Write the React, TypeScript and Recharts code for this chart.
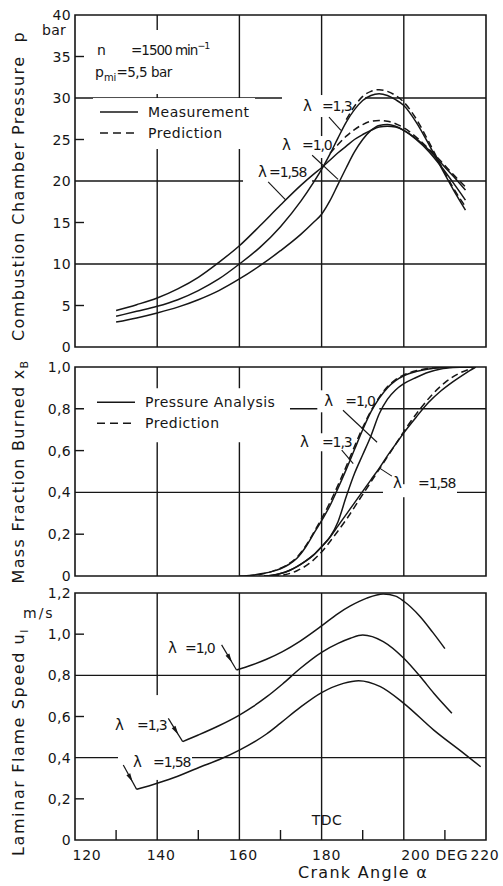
import React from 'react';
import { LineChart, Line, XAxis, YAxis, ReferenceLine, ReferenceDot, ReferenceArea } from 'recharts';

const FONT = '"DejaVu Sans", Verdana, sans-serif';
const INK = '#161616';

// ---------- shared x axis ----------
const angleTicks = [120, 130, 140, 150, 160, 170, 180, 190, 200, 210, 220];
const angleLabels: Record<number, string> = { 120: '120', 140: '140', 160: '160', 180: '180', 200: '200', 210: 'DEG', 220: '220' };
const angleLabelShift: Record<number, number> = { 120: 12, 140: 4, 160: 4, 180: 5, 200: 12, 210: 7, 220: -1 };
const gridAngles = [140, 160, 180, 200];

// ---------- panel 1: combustion chamber pressure (bar) ----------
const pAngles = [130, 135, 140, 145, 150, 155, 160, 165, 170, 175, 178, 180, 182, 184, 186, 188, 190, 192, 194, 196, 198, 200, 203, 206, 209, 212, 215];
const pLambda158 = [4.4, 5.1, 5.9, 7.0, 8.4, 10.2, 12.2, 14.6, 17.1, 19.5, 20.8, 21.6, 22.5, 23.4, 24.2, 25.0, 25.6, 26.1, 26.5, 26.6, 26.5, 26.1, 25.1, 23.8, 22.2, 20.6, 18.9];
const pLambda13 = [3.7, 4.3, 4.9, 5.7, 6.8, 8.2, 10.0, 12.0, 14.5, 17.6, 19.8, 21.4, 23.2, 25.2, 27.1, 28.6, 29.7, 30.3, 30.5, 30.3, 29.8, 29.1, 27.1, 24.5, 21.7, 19.0, 16.5];
const pLambda10 = [3.0, 3.5, 4.1, 4.8, 5.7, 6.8, 8.2, 9.8, 11.6, 13.6, 15.0, 16.0, 17.6, 19.6, 21.6, 23.5, 25.0, 26.1, 26.7, 26.8, 26.6, 26.1, 25.0, 23.6, 21.8, 19.8, 17.7];
const predAngles13 = [186, 188, 190, 192, 194, 196, 198, 200, 203, 206, 209, 212, 215];
const pPred13 = [27.4, 29.0, 30.2, 30.8, 31.0, 30.8, 30.3, 29.5, 27.5, 24.8, 21.9, 19.2, 16.9];
const predAngles158 = [182, 184, 186, 188, 190, 192, 194, 196, 198, 200, 203, 206, 209, 212, 215];
const pPred158 = [23.3, 24.4, 25.4, 26.2, 26.8, 27.2, 27.3, 27.2, 26.9, 26.4, 25.3, 23.9, 22.4, 20.8, 19.3];
const pTicks = [0, 5, 10, 15, 20, 25, 30, 35, 40];
const pMarks = [5, 15, 25, 35];
const pGrid = [10, 20, 30];

// ---------- panel 2: mass fraction burned ----------
const xbAnglesA = [160, 163, 166, 168, 170, 172, 174, 176, 178, 180, 182, 184, 186, 188, 190, 192, 194, 196, 198, 200, 203, 206, 209, 212, 215, 217.5];
const xbA = [0, 0.004, 0.013, 0.022, 0.035, 0.055, 0.085, 0.135, 0.2, 0.265, 0.335, 0.42, 0.51, 0.605, 0.7, 0.785, 0.85, 0.9, 0.935, 0.958, 0.978, 0.99, 0.996, 0.999, 1, 1];
const xbPredAnglesA = [162, 165, 168, 170, 172, 174, 176, 178, 180, 182, 184, 186, 188, 190, 192, 194, 196, 198, 200, 203, 206, 209, 212, 217.5];
const xbPredA = [0, 0.007, 0.022, 0.037, 0.058, 0.09, 0.14, 0.205, 0.275, 0.35, 0.435, 0.525, 0.62, 0.71, 0.79, 0.855, 0.905, 0.94, 0.962, 0.982, 0.993, 0.998, 1, 1];
const xbAnglesBC = [166, 168, 170, 172, 174, 176, 178, 180, 182, 184, 186, 188, 190, 192, 194, 196, 198, 200, 203, 206, 209, 212, 215, 217.5];
const xbB = [0, 0.004, 0.012, 0.025, 0.045, 0.07, 0.1, 0.14, 0.185, 0.26, 0.38, 0.49, 0.58, 0.67, 0.775, 0.845, 0.89, 0.92, 0.95, 0.975, 0.99, 0.997, 1, 1];
const xbC = [0, 0.004, 0.012, 0.025, 0.045, 0.07, 0.1, 0.14, 0.185, 0.24, 0.295, 0.35, 0.405, 0.46, 0.515, 0.575, 0.63, 0.685, 0.76, 0.83, 0.885, 0.93, 0.97, 1];
const xbPredAnglesC = [168, 171, 174, 177, 180, 183, 186, 189, 192, 195, 198, 201, 204, 207, 210, 213, 216, 217.5];
const xbPredC = [0, 0.006, 0.025, 0.06, 0.115, 0.19, 0.27, 0.36, 0.45, 0.54, 0.63, 0.72, 0.8, 0.87, 0.925, 0.965, 0.99, 1];
const xbTicks = [0, 0.2, 0.4, 0.6, 0.8, 1.0];
const xbMarks = [0.2, 0.6];
const xbGrid = [0.4, 0.8];

// ---------- panel 3: laminar flame speed (m/s) ----------
const uAngles10 = [159.3, 163, 166.6, 170.5, 174.7, 180, 184, 187, 191, 195, 198, 200, 204, 207, 210];
const uLambda10 = [0.826, 0.85, 0.878, 0.915, 0.965, 1.04, 1.1, 1.137, 1.175, 1.195, 1.185, 1.16, 1.085, 1.01, 0.93];
const uAngles13 = [146.2, 150, 155, 160, 163.3, 166.6, 170.5, 174.7, 180, 184, 187, 190, 195, 200, 204, 207.3, 211.7];
const uLambda13 = [0.478, 0.51, 0.555, 0.607, 0.648, 0.695, 0.758, 0.832, 0.912, 0.955, 0.98, 0.996, 0.964, 0.883, 0.794, 0.713, 0.616];
const uAngles158 = [135, 140, 145, 150.6, 155, 160, 166.6, 170, 174.7, 180, 185.3, 189, 194.3, 200, 207.3, 214.6, 218.7];
const uLambda158 = [0.246, 0.276, 0.31, 0.356, 0.39, 0.437, 0.515, 0.568, 0.643, 0.716, 0.761, 0.774, 0.745, 0.664, 0.534, 0.421, 0.356];
const uTicks = [0, 0.2, 0.4, 0.6, 0.8, 1.0, 1.2];
const uMarks = [0.2, 0.6, 1.0];
const uGrid = [0.4, 0.8];

// ---------- helpers ----------
const zip = (xs: number[], ys: number[]) => xs.map((a, i) => ({ a, v: ys[i] }));
const near = (list: number[], v: number) => list.some((m) => Math.abs(m - v) < 1e-6);
const fmtComma = (v: number) => (v === 0 ? '0' : v.toFixed(1).replace('.', ','));

const makeYTick = (marks: number[], fmt: (v: number) => string) => (props: any) => {
  const { x, y, payload } = props;
  const v = payload.value as number;
  return (
    <g>
      {near(marks, v) && <line x1={x} x2={x + 9} y1={y} y2={y} stroke={INK} strokeWidth={1.4} />}
      <text x={x - 4} y={y} dy="0.36em" textAnchor="end" fontFamily={FONT} fontSize={14} letterSpacing={0.3} fill={INK}>
        {fmt(v)}
      </text>
    </g>
  );
};

const makeXTick = (withLabels: boolean) => (props: any) => {
  const { x, y, payload } = props;
  const v = payload.value as number;
  const inner = v % 20 === 10;
  const label = withLabels ? angleLabels[v] : undefined;
  return (
    <g>
      {inner && <line x1={x} x2={x} y1={y} y2={y - 10} stroke={INK} strokeWidth={1.4} />}
      {label && (
        <text x={x + (angleLabelShift[v] || 0)} y={y + 20} textAnchor="middle" fontFamily={FONT} fontSize={14} letterSpacing={0.8} fill={INK}>
          {label}
        </text>
      )}
    </g>
  );
};

const txt = { fontFamily: FONT, fill: INK } as const;

const note = (
  key: string,
  x: number,
  y: number,
  box: number[] | null,
  draw: (cx: number, cy: number) => React.ReactNode
) => (
  <ReferenceDot
    key={key}
    x={x}
    y={y}
    r={0}
    ifOverflow="visible"
    zIndex={150}
    shape={(p: any) => (
      <g>
        {box && <rect x={p.cx + box[0]} y={p.cy + box[1]} width={box[2] - box[0]} height={box[3] - box[1]} fill="#fff" />}
        {draw(p.cx, p.cy)}
      </g>
    )}
  />
);

const lam = (cx: number, cy: number, gap: number, val: string) => (
  <>
    <text x={cx} y={cy} {...txt} fontSize={15}>λ</text>
    <text x={cx + gap} y={cy} {...txt} fontSize={14} letterSpacing={-1.1}>={val}</text>
  </>
);

const legend = (cx: number, cy: number, first: string) => (
  <>
    <line x1={cx} x2={cx + 38} y1={cy} y2={cy} stroke={INK} strokeWidth={1.5} />
    <text x={cx + 48} y={cy + 5} {...txt} fontSize={14} letterSpacing={0.5}>{first}</text>
    <line x1={cx} x2={cx + 38} y1={cy + 21} y2={cy + 21} stroke={INK} strokeWidth={1.5} strokeDasharray="8 5" />
    <text x={cx + 48} y={cy + 26} {...txt} fontSize={14} letterSpacing={0.5}>Prediction</text>
  </>
);

const arrowShape = (p: any) => {
  const { x1, y1, x2, y2 } = p;
  const dx = x2 - x1;
  const dy = y2 - y1;
  const L = Math.hypot(dx, dy) || 1;
  const ux = dx / L;
  const uy = dy / L;
  const hx = x1 + dx * 0.7;
  const hy = y1 + dy * 0.7;
  const bx = hx - ux * 9;
  const by = hy - uy * 9;
  const nx = -uy * 2.2;
  const ny = ux * 2.2;
  return (
    <g>
      <line x1={x1} y1={y1} x2={x2} y2={y2} stroke={INK} strokeWidth={1.2} />
      <polygon points={`${hx},${hy} ${bx + nx},${by + ny} ${bx - nx},${by - ny}`} fill={INK} />
    </g>
  );
};

const leader = (key: string, a1: number, v1: number, a2: number, v2: number, arrow = false) => (
  <ReferenceLine
    key={key}
    segment={[{ x: a1, y: v1 }, { x: a2, y: v2 }]}
    stroke={INK}
    strokeWidth={1.1}
    ifOverflow="visible"
    zIndex={400}
    shape={arrow ? arrowShape : undefined}
  />
);

const gridX = () =>
  gridAngles.map((g) => <ReferenceLine key={`gx${g}`} x={g} stroke={INK} strokeWidth={1.4} zIndex={50} />);
const gridY = (vals: number[]) =>
  vals.map((g) => <ReferenceLine key={`gy${g}`} y={g} stroke={INK} strokeWidth={1.4} zIndex={50} />);
const frame = (top: number) => (
  <ReferenceArea x1={120} x2={220} y1={0} y2={top} fill="none" fillOpacity={0} stroke={INK} strokeWidth={1.6} ifOverflow="visible" zIndex={60} />
);

const solid = (key: string, data: { a: number; v: number }[]) => (
  <Line key={key} data={data} dataKey="v" type="monotone" stroke={INK} strokeWidth={1.5} dot={false} activeDot={false} isAnimationActive={false} zIndex={400} />
);
const dashed = (key: string, data: { a: number; v: number }[]) => (
  <Line key={key} data={data} dataKey="v" type="monotone" stroke={INK} strokeWidth={1.5} strokeDasharray="7 4" dot={false} activeDot={false} isAnimationActive={false} zIndex={400} />
);

const xAxisProps = {
  dataKey: 'a',
  type: 'number' as const,
  domain: [120, 220],
  ticks: angleTicks,
  interval: 0 as const,
  allowDataOverflow: true,
  axisLine: false,
  tickLine: false,
  tickSize: 0,
  tickMargin: 0,
};

const W = 503;
const MARGIN = { left: 0, right: 17 };

export default function App() {
  return (
    <div style={{ position: 'absolute', left: 0, top: 0, width: W, height: 886, background: '#fff' }}>
      {/* Panel 1 */}
      <div style={{ position: 'absolute', left: 0, top: 0 }}>
        <LineChart width={W} height={358} margin={{ top: 15, bottom: 11, ...MARGIN }}>
          {gridX()}
          {gridY(pGrid)}
          {frame(40)}
          {note('n', 125.35, 35.18, [-7, -25, 108, 39], (cx, cy) => (
            <>
              <text x={cx} y={cy} {...txt} fontSize={14}>n</text>
              <text x={cx + 34} y={cy} {...txt} fontSize={13.5} letterSpacing={-1}>
                =1500 min<tspan dy={-6} fontSize={9.5}>−1</tspan>
              </text>
              <text x={cx - 2} y={cy + 22} {...txt} fontSize={14}>
                p<tspan dy={4} fontSize={10}>mi</tspan>
                <tspan dy={-4} fontSize={13.5} letterSpacing={-0.5}>=5,5 bar</tspan>
              </text>
            </>
          ))}
          {note('leg1', 126.08, 28.31, [-7, -14, 155, 37], (cx, cy) => legend(cx, cy, 'Measurement'))}
          {note('l13', 175.47, 28.43, [-21, -16, 62, 6], (cx, cy) => lam(cx, cy, 19, '1,3'))}
          {note('l10', 170.37, 23.73, [-2, -14, 45, 8], (cx, cy) => lam(cx, cy, 20, '1,0'))}
          {note('l158', 164.53, 20.48, [-15, -15, 54, 7], (cx, cy) => lam(cx, cy, 11, '1,58'))}
          {solid('p158', zip(pAngles, pLambda158))}
          {solid('p13', zip(pAngles, pLambda13))}
          {solid('p10', zip(pAngles, pLambda10))}
          {dashed('pp13', zip(predAngles13, pPred13))}
          {dashed('pp158', zip(predAngles158, pPred158))}
          {leader('ld13', 181.8, 27.7, 184.7, 26.1)}
          {leader('ld10', 177.7, 23.1, 184.0, 20.2)}
          {leader('ld158', 167.0, 19.9, 171.3, 17.7)}
          <XAxis {...xAxisProps} height={0} tick={makeXTick(false)} />
          <YAxis
            type="number"
            domain={[0, 40]}
            ticks={pTicks}
            interval={0}
            allowDataOverflow
            width={75}
            axisLine={false}
            tickLine={false}
            tickSize={0}
            tickMargin={0}
            tick={makeYTick(pMarks, (v) => String(v))}
            label={{
              content: () => (
                <g>
                  <text transform="translate(24,186) rotate(-90)" textAnchor="middle" {...txt} fontSize={16} letterSpacing={1.4}>
                    Combustion Chamber Pressure{'\u00A0\u00A0'}p
                  </text>
                  <text x={42} y={35} {...txt} fontSize={14} letterSpacing={0.3}>bar</text>
                </g>
              ),
            }}
          />
        </LineChart>
      </div>

      {/* Panel 2 */}
      <div style={{ position: 'absolute', left: 0, top: 356 }}>
        <LineChart width={W} height={234} margin={{ top: 11, bottom: 14, ...MARGIN }}>
          {gridX()}
          {gridY(xbGrid)}
          {frame(1)}
          {note('leg2', 125.35, 0.8314, [-13, -14, 193, 40], (cx, cy) => legend(cx, cy, 'Pressure Analysis'))}
          {note('m10', 180.66, 0.812, [-7, -16, 55, 6], (cx, cy) => lam(cx, cy, 21, '1,0'))}
          {note('m13', 174.74, 0.616, [-3, -14, 46, 4], (cx, cy) => lam(cx, cy, 22, '1,3'))}
          {note('m158', 197.37, 0.42, [-10, -4, 64, 9], (cx, cy) => lam(cx, cy, 25, '1,58'))}
          {solid('xa', zip(xbAnglesA, xbA))}
          {dashed('xpa', zip(xbPredAnglesA, xbPredA))}
          {solid('xb', zip(xbAnglesBC, xbB))}
          {solid('xc', zip(xbAnglesBC, xbC))}
          {dashed('xpc', zip(xbPredAnglesC, xbPredC))}
          {leader('md10', 185.2, 0.793, 193.5, 0.64)}
          {leader('md13', 184.9, 0.602, 187.7, 0.538)}
          {leader('md158', 197.1, 0.478, 194.2, 0.515)}
          <XAxis {...xAxisProps} height={0} tick={makeXTick(false)} />
          <YAxis
            type="number"
            domain={[0, 1]}
            ticks={xbTicks}
            interval={0}
            allowDataOverflow
            width={75}
            axisLine={false}
            tickLine={false}
            tickSize={0}
            tickMargin={0}
            tick={makeYTick(xbMarks, fmtComma)}
            label={{
              content: () => (
                <text transform="translate(24,115.5) rotate(-90)" textAnchor="middle" {...txt} fontSize={16} letterSpacing={1.3}>
                  Mass Fraction Burned x<tspan dy={4} fontSize={11}>B</tspan>
                </text>
              ),
            }}
          />
        </LineChart>
      </div>

      {/* Panel 3 */}
      <div style={{ position: 'absolute', left: 0, top: 582 }}>
        <LineChart width={W} height={304} margin={{ top: 11, bottom: 0, ...MARGIN }}>
          {gridX()}
          {gridY(uGrid)}
          {frame(1.2)}
          {note('u10', 142.63, 0.909, null, (cx, cy) => lam(cx, cy, 17, '1,0'))}
          {note('u13', 129.73, 0.534, [-3, -35, 46, 15], (cx, cy) => lam(cx, cy, 22, '1,3'))}
          {note('u158', 134.11, 0.355, [-15, -22, 59, 13], (cx, cy) => lam(cx, cy, 20, '1,58'))}
          {note('tdc', 181.31, 0.073, null, (cx, cy) => (
            <text x={cx} y={cy} textAnchor="middle" {...txt} fontSize={14} letterSpacing={0.5}>TDC</text>
          ))}
          {solid('u10s', zip(uAngles10, uLambda10))}
          {solid('u13s', zip(uAngles13, uLambda13))}
          {solid('u158s', zip(uAngles158, uLambda158))}
          {leader('ud10', 155.67, 0.948, 159.3, 0.826, true)}
          {leader('ud13', 142.7, 0.591, 146.2, 0.478, true)}
          {leader('ud158', 131.75, 0.364, 135.0, 0.246, true)}
          <XAxis
            {...xAxisProps}
            height={46}
            tick={makeXTick(true)}
            label={{
              content: () => (
                <text x={363} y={296} textAnchor="middle" {...txt} fontSize={16} letterSpacing={1.3}>
                  Crank Angle α
                </text>
              ),
            }}
          />
          <YAxis
            type="number"
            domain={[0, 1.2]}
            ticks={uTicks}
            interval={0}
            allowDataOverflow
            width={75}
            axisLine={false}
            tickLine={false}
            tickSize={0}
            tickMargin={0}
            tick={makeYTick(uMarks, fmtComma)}
            label={{
              content: () => (
                <g>
                  <text transform="translate(24,160) rotate(-90)" textAnchor="middle" {...txt} fontSize={16} letterSpacing={1.6}>
                    Laminar Flame Speed u<tspan dy={4} fontSize={11}>l</tspan>
                  </text>
                  <text x={23} y={36} {...txt} fontSize={14} letterSpacing={2}>m/s</text>
                </g>
              ),
            }}
          />
        </LineChart>
      </div>
    </div>
  );
}
